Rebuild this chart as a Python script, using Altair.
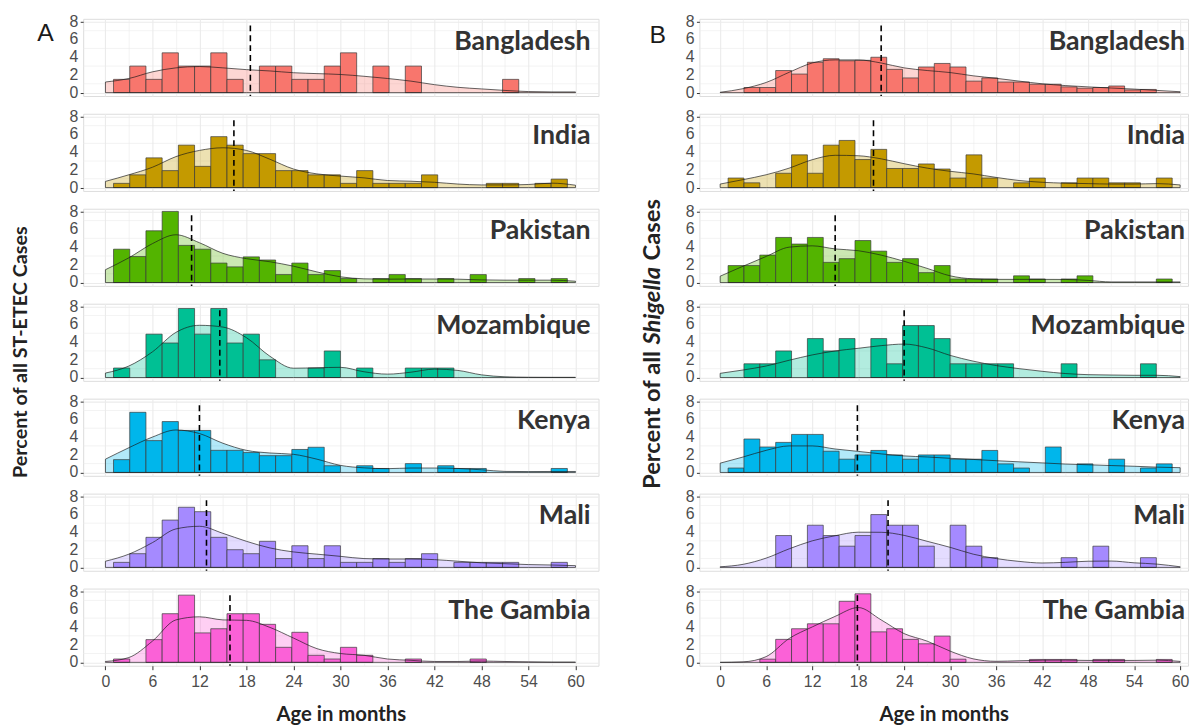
import altair as alt
import pandas as pd

COUNTRIES = ["Bangladesh", "India", "Pakistan", "Mozambique", "Kenya", "Mali", "The Gambia"]
COLORS = ["#F8766D", "#C49A00", "#53B400", "#00C094", "#00B6EB", "#A58AFF", "#FB61D7"]

N_BINS = 30
BIN_W = 60 / 29
DENS_X = list(range(0, 61, 3))

# histogram heights (percent), bins k = 0..29 centred at k*60/29
A_BARS = [
    [0, 1.5, 3.0, 1.5, 4.5, 3.0, 3.0, 4.5, 1.5, 0, 3.0, 3.0, 1.5, 1.5, 3.0, 4.5, 0, 3.0, 0, 3.0, 0, 0, 0, 0, 0, 1.5, 0, 0, 0, 0],
    [0, 0.48, 1.44, 3.36, 1.92, 4.8, 2.4, 5.76, 4.8, 3.84, 3.84, 1.92, 1.92, 1.44, 1.44, 0.48, 1.92, 0.48, 0.48, 0.48, 1.44, 0, 0, 0, 0.48, 0.48, 0, 0.48, 0.96, 0],
    [0, 3.77, 2.94, 5.85, 8.04, 4.2, 3.77, 2.2, 1.77, 2.9, 2.55, 0.9, 2.2, 0.9, 1.35, 0.45, 0, 0.45, 0.9, 0.45, 0, 0.45, 0, 0.9, 0, 0, 0.45, 0, 0.45, 0],
    [0, 1.07, 0, 4.9, 3.9, 7.8, 4.9, 7.8, 3.9, 4.9, 2.0, 0, 0, 1.07, 3.0, 0, 1.07, 0, 0, 1.07, 1.07, 1.07, 0, 0, 0, 0, 0, 0, 0, 0],
    [0, 1.45, 6.8, 3.6, 5.75, 4.75, 4.75, 2.5, 2.5, 2.25, 1.9, 1.9, 2.6, 2.85, 0.76, 0, 0.76, 0.45, 0, 1.0, 0, 0.76, 0.45, 0.45, 0, 0, 0, 0, 0.45, 0],
    [0, 0.57, 1.55, 3.4, 5.35, 6.8, 6.3, 3.4, 2.0, 1.55, 2.95, 1.0, 2.45, 1.0, 2.45, 0.57, 0.57, 1.0, 0.57, 1.0, 1.55, 0, 0.57, 0.57, 0.57, 0.57, 0, 0, 0.57, 0],
    [0, 0.38, 0, 2.57, 5.5, 7.6, 3.33, 3.8, 5.5, 5.5, 4.3, 1.7, 3.4, 0.8, 0.38, 1.7, 0.8, 0, 0, 0.38, 0, 0, 0, 0.38, 0, 0, 0, 0, 0, 0],
]
B_BARS = [
    [0, 0, 0.58, 0.58, 2.5, 2.1, 3.43, 3.83, 3.6, 3.65, 4.0, 2.63, 1.66, 2.9, 3.3, 2.9, 1.3, 1.66, 1.2, 1.2, 0.95, 0.95, 0.65, 0.5, 0.58, 0.75, 0.3, 0.36, 0, 0],
    [0, 1.08, 0.54, 0, 1.62, 3.7, 1.62, 4.8, 5.33, 3.17, 4.32, 2.16, 2.16, 2.67, 2.1, 1.08, 3.7, 1.08, 0, 0.54, 1.08, 0, 0.54, 1.08, 1.08, 0.54, 0.54, 0, 1.08, 0],
    [0, 1.92, 1.92, 3.1, 5.1, 4.35, 5.1, 2.28, 2.7, 4.75, 3.55, 2.28, 2.7, 1.12, 1.92, 0.4, 0.4, 0.4, 0, 0.76, 0.4, 0, 0.4, 0.76, 0, 0, 0, 0, 0.4, 0],
    [0, 0, 1.55, 1.55, 3.0, 0, 4.4, 3.0, 4.4, 0, 4.4, 1.55, 5.87, 5.87, 4.4, 1.55, 1.55, 1.55, 1.55, 0, 0, 0, 1.55, 0, 0, 0, 0, 1.55, 0, 0],
    [0, 0.5, 3.78, 2.88, 3.4, 4.3, 4.3, 2.4, 1.5, 1.98, 2.49, 1.98, 1.5, 1.98, 1.98, 1.5, 1.5, 2.49, 0.97, 0.5, 0, 2.88, 0, 0.97, 0, 1.5, 0, 0.5, 0.97, 0],
    [0, 0, 0, 0, 3.6, 0, 4.77, 3.6, 2.4, 3.6, 5.97, 4.77, 4.77, 2.4, 0, 4.77, 2.4, 1.1, 0, 0, 0, 0, 1.1, 0, 2.4, 0, 0, 1.1, 0, 0],
    [0, 0, 0, 0.36, 2.6, 3.8, 4.36, 4.36, 6.9, 7.75, 3.45, 3.8, 2.6, 2.1, 2.97, 0.36, 0, 0, 0, 0, 0.33, 0.33, 0.33, 0, 0.33, 0.33, 0, 0, 0.33, 0],
]

# density curves, read at ages 0, 3, ..., 60 months
A_DENS = [
    [1.2, 1.6, 2.35, 2.8, 2.95, 2.8, 2.6, 2.45, 2.25, 2.15, 2.05, 1.85, 1.6, 1.3, 0.9, 0.6, 0.42, 0.25, 0.12, 0.08, 0.08],
    [0.7, 1.45, 2.3, 3.5, 4.2, 4.5, 4.2, 3.2, 2.1, 1.55, 1.3, 1.1, 0.8, 0.72, 0.6, 0.4, 0.3, 0.3, 0.35, 0.5, 0.27],
    [1.45, 2.8, 4.4, 5.4, 4.5, 3.3, 2.7, 2.35, 1.85, 1.2, 0.65, 0.42, 0.38, 0.4, 0.4, 0.38, 0.3, 0.27, 0.27, 0.27, 0.15],
    [0.5, 1.3, 2.9, 5.1, 5.9, 5.7, 4.5, 2.4, 1.05, 1.1, 1.15, 0.65, 0.38, 0.6, 0.95, 0.8, 0.3, 0.08, 0.03, 0.02, 0.02],
    [1.5, 2.8, 4.0, 4.8, 4.4, 3.3, 2.5, 2.2, 2.05, 1.5, 0.8, 0.52, 0.43, 0.5, 0.5, 0.45, 0.3, 0.12, 0.1, 0.11, 0.11],
    [0.7, 1.5, 2.8, 4.35, 4.65, 3.85, 2.95, 2.2, 1.75, 1.5, 1.25, 1.0, 0.95, 0.95, 0.88, 0.7, 0.52, 0.42, 0.32, 0.27, 0.2],
    [0.1, 0.55, 2.4, 4.8, 5.15, 4.8, 4.75, 3.95, 2.75, 1.55, 1.0, 0.8, 0.38, 0.23, 0.1, 0.1, 0.15, 0.1, 0.06, 0.03, 0.03],
]
B_DENS = [
    [0.04, 0.45, 1.15, 2.3, 3.35, 3.7, 3.7, 3.35, 2.8, 2.5, 2.27, 1.9, 1.62, 1.3, 1.0, 0.8, 0.65, 0.52, 0.4, 0.25, 0.1],
    [0.4, 0.9, 1.45, 2.2, 3.15, 3.65, 3.6, 3.25, 2.7, 2.2, 1.84, 1.55, 1.15, 0.8, 0.6, 0.5, 0.45, 0.4, 0.4, 0.45, 0.3],
    [0.72, 1.85, 2.95, 4.0, 4.15, 3.8, 3.6, 3.1, 2.4, 1.6, 0.76, 0.42, 0.36, 0.36, 0.36, 0.35, 0.24, 0.07, 0.07, 0.07, 0.07],
    [0.47, 0.85, 1.3, 1.95, 2.55, 3.0, 3.3, 3.6, 3.78, 3.35, 2.5, 1.85, 1.35, 1.0, 0.7, 0.45, 0.32, 0.28, 0.25, 0.25, 0.1],
    [1.05, 1.75, 2.5, 3.0, 3.0, 2.65, 2.38, 2.1, 1.87, 1.75, 1.6, 1.47, 1.33, 1.2, 1.08, 0.95, 0.87, 0.78, 0.7, 0.6, 0.54],
    [0.07, 0.35, 1.05, 2.1, 3.0, 3.58, 3.98, 3.97, 3.62, 2.95, 2.27, 1.5, 1.0, 0.68, 0.5, 0.57, 0.7, 0.72, 0.52, 0.37, 0.07],
    [0.0, 0.06, 0.65, 2.7, 4.0, 5.2, 6.2, 4.8, 3.25, 2.4, 1.27, 0.4, 0.12, 0.18, 0.24, 0.25, 0.22, 0.22, 0.22, 0.25, 0.11],
]

A_MEDIAN = [18.5, 16.4, 11.0, 14.6, 12.0, 12.9, 15.9]
B_MEDIAN = [21.0, 20.0, 15.0, 24.0, 17.9, 21.9, 17.9]

Y_TICKS = [0, 2, 4, 6, 8]
Y_MINOR = [1, 3, 5, 7]
Y_DOMAIN = [-0.38, 8.34]
PANEL_H = 78
ROW_GAP = 18

TICK_FONT = "Liberation Sans"
BOLD_FONT = "Lato"
GRID = "#EBEBEB"
TICK_LABEL = "#4D4D4D"


def x_axis(bottom):
    kw = dict(
        values=list(range(0, 61, 3)),
        grid=True,
        gridColor=GRID,
        gridWidth={"condition": {"test": "datum.value % 6 === 0", "value": 1.1}, "value": 0.6},
        domain=False,
        labels=bottom,
        ticks=bottom,
        labelOverlap=False,
        tickColor="#333333",
        tickSize=4,
        tickOpacity={"condition": {"test": "datum.value % 6 === 0", "value": 1}, "value": 0},
        labelExpr="datum.value % 6 === 0 ? datum.label : ''",
        labelFont=TICK_FONT,
        labelFontSize=16,
        labelColor=TICK_LABEL,
        labelPadding=4,
        title="Age in months" if bottom else "",
        titleFont=BOLD_FONT,
        titleFontSize=20.5,
        titleFontWeight="bold",
        titleColor="#222222",
        titlePadding=15,
    )
    return alt.Axis(**kw)


def y_axis():
    return alt.Axis(
        values=Y_TICKS,
        grid=True,
        gridColor=GRID,
        gridWidth=1.1,
        domain=False,
        labels=False,
        tickColor="#333333",
        tickSize=3,
        title="",
    )


def panel(bars, dens, median, country, color, width, xdom, bottom, label_x, extras):
    xs = alt.Scale(domain=xdom, nice=False, zero=False)
    ys = alt.Scale(domain=Y_DOMAIN, nice=False, zero=False)
    xa = x_axis(bottom)
    ya = y_axis()

    bdf = pd.DataFrame({
        "x0": [k * BIN_W - BIN_W / 2 for k in range(N_BINS)],
        "x1": [k * BIN_W + BIN_W / 2 for k in range(N_BINS)],
        "v": bars,
    })
    bdf = bdf[bdf["v"] > 0]
    ddf = pd.DataFrame({"x": DENS_X, "d": dens})
    mdf = pd.DataFrame({"m": [median]})
    ldf = pd.DataFrame({"t": [country]})
    gdf = pd.DataFrame({"g": Y_MINOR})
    tdf = pd.DataFrame({"yt": Y_TICKS})

    minor = alt.Chart(gdf).mark_rule(color=GRID, strokeWidth=0.6).encode(
        y=alt.Y("g:Q", scale=ys, axis=ya),
        x=alt.value(0),
        x2=alt.value(width),
    )
    ylabels = alt.Chart(tdf).mark_text(
        align="right", baseline="middle", font=TICK_FONT, fontSize=16, color=TICK_LABEL,
    ).encode(
        y=alt.Y("yt:Q", scale=ys, axis=ya),
        x=alt.value(-5),
        text=alt.Text("yt:Q"),
    )
    area = alt.Chart(ddf).mark_area(interpolate="monotone", color=color, opacity=0.3).encode(
        x=alt.X("x:Q", scale=xs, axis=xa),
        y=alt.Y("d:Q", scale=ys, axis=ya),
        y2=alt.datum(0),
    )
    rects = alt.Chart(bdf).mark_rect(fill=color, stroke="#3a3a3a", strokeWidth=0.7).encode(
        x=alt.X("x0:Q", scale=xs, axis=xa),
        x2="x1:Q",
        y=alt.Y("v:Q", scale=ys, axis=ya),
        y2=alt.datum(0),
    )
    outline = alt.Chart(ddf).mark_area(
        interpolate="monotone", fill=color, fillOpacity=0, stroke="#1a1a1a",
        strokeWidth=0.8, strokeOpacity=0.85,
    ).encode(
        x=alt.X("x:Q", scale=xs, axis=xa),
        y=alt.Y("d:Q", scale=ys, axis=ya),
        y2=alt.datum(0),
    )
    med = alt.Chart(mdf).mark_rule(strokeDash=[6, 4], strokeWidth=1.6, color="black").encode(
        x=alt.X("m:Q", scale=xs, axis=xa),
        y=alt.datum(7.6),
        y2=alt.datum(Y_DOMAIN[0]),
    )
    label = alt.Chart(ldf).mark_text(
        align="right", baseline="middle", font=BOLD_FONT, fontWeight="bold",
        fontSize=27, color="#333333",
    ).encode(x=alt.value(label_x), y=alt.value(23), text="t:N")

    return alt.layer(minor, ylabels, area, rects, outline, med, label, *extras).properties(
        width=width, height=PANEL_H
    )


def text_mark(txt, x, y, **kw):
    return alt.Chart(pd.DataFrame({"t": [txt]})).mark_text(**kw).encode(
        x=alt.value(x), y=alt.value(y), text="t:N"
    )


def anchor(x, y):
    # tiny invisible (white) mark fixing the outer bounds of a column
    return alt.Chart(pd.DataFrame({"a": [0]})).mark_rule(color="white", strokeWidth=1).encode(
        x=alt.value(x), y=alt.value(y), y2=alt.value(y + 1)
    )


A_W = 521
A_XDOM = [-2.84, 62.94]
B_W = 494
B_XDOM = [-2.71, 61.03]

TITLE_FS_A = 20
TITLE_FS_B = 24
SHIG_C = 290          # centre of the italic word, relative to the top of the panels
SHIG_HALF = 3.4 * TITLE_FS_B / 2
GAP = 5

a_extras = [
    anchor(-75, -6),
    anchor(A_W + 10, -6),
    text_mark("A", -38, 14, font=TICK_FONT, fontSize=25, color="#1a1a1a", align="center", baseline="middle"),
    text_mark("Percent of all ST-ETEC Cases", -63, 337, font=BOLD_FONT, fontWeight="bold", fontSize=TITLE_FS_A,
              color="#222222", angle=270, align="center", baseline="middle"),
]
b_extras = [
    anchor(-70, -6),
    text_mark("B", -42, 16, font=TICK_FONT, fontSize=25, color="#1a1a1a", align="center", baseline="middle"),
    text_mark("Percent of all", -47, SHIG_C + SHIG_HALF + GAP, font=BOLD_FONT, fontWeight="bold",
              fontSize=TITLE_FS_B, color="#222222", angle=270, align="right", baseline="middle"),
    text_mark("Shigella", -47, SHIG_C, font=BOLD_FONT, fontWeight="bold", fontStyle="italic",
              fontSize=TITLE_FS_B, color="#222222", angle=270, align="center", baseline="middle"),
    text_mark("Cases", -47, SHIG_C - SHIG_HALF - GAP, font=BOLD_FONT, fontWeight="bold",
              fontSize=TITLE_FS_B, color="#222222", angle=270, align="left", baseline="middle"),
]

rows_a = []
rows_b = []
for i, (c, col) in enumerate(zip(COUNTRIES, COLORS)):
    bottom = i == len(COUNTRIES) - 1
    rows_a.append(panel(A_BARS[i], A_DENS[i], A_MEDIAN[i], c, col, A_W, A_XDOM, bottom, A_W - 8,
                        a_extras if i == 0 else []))
    rows_b.append(panel(B_BARS[i], B_DENS[i], B_MEDIAN[i], c, col, B_W, B_XDOM, bottom, B_W - 3,
                        b_extras if i == 0 else []))

col_a = alt.vconcat(*rows_a, spacing=ROW_GAP, bounds="flush")
col_b = alt.vconcat(*rows_b, spacing=ROW_GAP, bounds="flush")

chart = alt.hconcat(col_a, col_b, spacing=20, padding=0).configure_view(
    stroke="#444444", strokeWidth=1
).configure(background="white")

chart.save("out.html", embed_options={"renderer": "svg", "actions": False})
